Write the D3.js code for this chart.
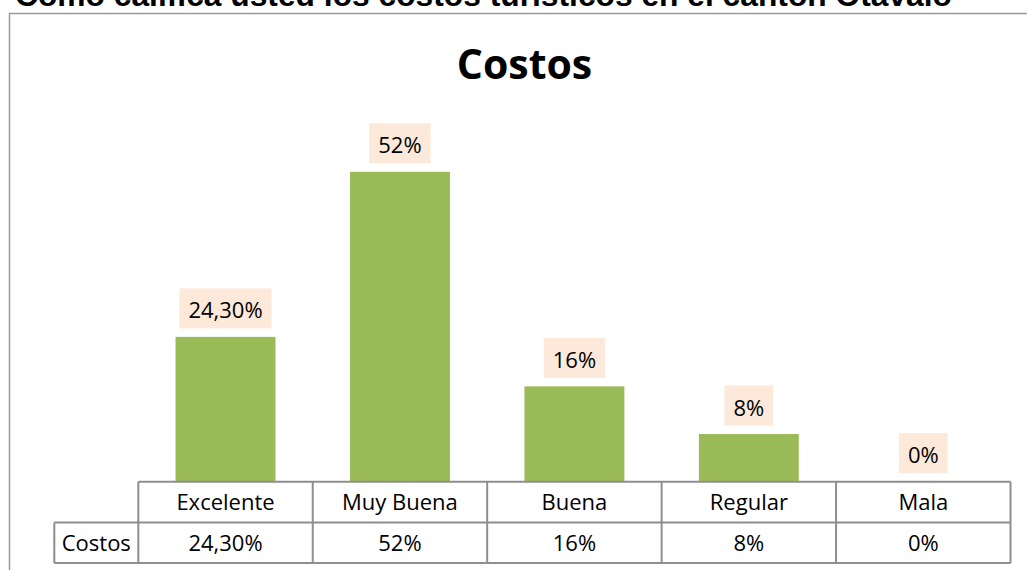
<!DOCTYPE html>
<html>
<head>
<meta charset="utf-8">
<script src="https://cdn.jsdelivr.net/npm/d3@7"></script>
<style>
  html, body { margin: 0; padding: 0; background: #fff; overflow: hidden; }
  svg { display: block; }
</style>
</head>
<body>
<svg id="chart" width="1027" height="570"></svg>
<script>
// Survey answers: how tourism costs are rated
const pageTitle = "Como califica usted los costos turísticos en el cantón Otavalo";
const chartTitle = "Costos";
const seriesName = "Costos";
const categories = ["Excelente", "Muy Buena", "Buena", "Regular", "Mala"];
const values = [24.3, 52, 16, 8, 0];
const valueLabels = ["24,30%", "52%", "16%", "8%", "0%"];

const svg = d3.select("#chart");
const bodyFont = "'Open Sans', 'Noto Sans', sans-serif";
const gridColor = "#8e8e8e";

// Page heading (partly above the visible area)
svg.append("text")
  .attr("x", 15).attr("y", 6)
  .attr("font-family", "'Liberation Sans', Arial, sans-serif")
  .attr("font-weight", "bold")
  .attr("font-size", 32)
  .attr("textLength", 937)
  .attr("lengthAdjust", "spacingAndGlyphs")
  .attr("fill", "#000")
  .text(pageTitle);

// Outer chart frame (top and left edges)
svg.append("path")
  .attr("d", "M9.5,570 V13.5 H1027")
  .attr("fill", "none")
  .attr("stroke", "#9a9a9a")
  .attr("stroke-width", 1.5);

// Layout
const tableLeft = 54.3, colLeft = 138.3, colRight = 1010.5;
const row1Top = 481.7, row2Top = 522.5, row2Bottom = 563;

const colX = d3.scaleBand().domain(categories).range([colLeft, colRight]).padding(0);
const barX = d3.scaleBand().domain(categories).range([colLeft, colRight])
  .paddingInner(0.427).paddingOuter(0.2135);
const y = d3.scaleLinear().domain([0, 60]).range([row1Top, 124.1]);

// Chart title
svg.append("text")
  .attr("x", 524.5).attr("y", 78.5)
  .attr("text-anchor", "middle")
  .attr("font-family", bodyFont)
  .attr("font-weight", "bold")
  .attr("font-size", 41)
  .attr("fill", "#000")
  .text(chartTitle);

const data = categories.map((c, i) => ({ cat: c, value: values[i], label: valueLabels[i] }));

// Bars
svg.append("g").selectAll("rect")
  .data(data)
  .join("rect")
  .attr("x", d => barX(d.cat))
  .attr("y", d => y(d.value))
  .attr("width", barX.bandwidth())
  .attr("height", d => y(0) - y(d.value))
  .attr("fill", "#9bbb59");

// Data labels with peach background boxes
const lbl = svg.append("g").selectAll("g")
  .data(data)
  .join("g")
  .attr("transform", d => `translate(${barX(d.cat) + barX.bandwidth() / 2},${y(d.value) - 8.5})`);

const lblBox = lbl.append("rect").attr("fill", "#fde9d9");
const lblText = lbl.append("text")
  .attr("text-anchor", "middle")
  .attr("y", -10)
  .attr("font-family", bodyFont)
  .attr("font-size", 22)
  .attr("fill", "#000")
  .text(d => d.label);
lblText.each(function (d, i) {
  const w = this.getComputedTextLength() + 18;
  d3.select(lblBox.nodes()[i])
    .attr("x", -w / 2).attr("y", -40)
    .attr("width", w).attr("height", 40);
});

// Data table below the plot
const table = svg.append("g")
  .attr("fill", "none")
  .attr("stroke", gridColor)
  .attr("stroke-width", 2);

table.append("line").attr("x1", colLeft).attr("x2", colRight).attr("y1", row1Top).attr("y2", row1Top);
table.append("line").attr("x1", tableLeft).attr("x2", colRight).attr("y1", row2Top).attr("y2", row2Top);
table.append("line").attr("x1", tableLeft).attr("x2", colRight).attr("y1", row2Bottom).attr("y2", row2Bottom);
table.append("line").attr("x1", tableLeft).attr("x2", tableLeft).attr("y1", row2Top).attr("y2", row2Bottom);
const bounds = categories.map(c => colX(c)).concat([colRight]);
table.selectAll(".vline")
  .data(bounds)
  .join("line")
  .attr("x1", d => d).attr("x2", d => d)
  .attr("y1", row1Top).attr("y2", row2Bottom);

const textG = svg.append("g")
  .attr("font-family", bodyFont)
  .attr("font-size", 22)
  .attr("fill", "#000")
  .attr("text-anchor", "middle");

textG.selectAll(".cat")
  .data(data)
  .join("text")
  .attr("x", d => colX(d.cat) + colX.bandwidth() / 2)
  .attr("y", 509.5)
  .text(d => d.cat);

textG.selectAll(".val")
  .data(data)
  .join("text")
  .attr("x", d => colX(d.cat) + colX.bandwidth() / 2)
  .attr("y", 550.5)
  .text(d => d.label);

textG.append("text")
  .attr("x", (tableLeft + colLeft) / 2)
  .attr("y", 550.5)
  .text(seriesName);
</script>
</body>
</html>
